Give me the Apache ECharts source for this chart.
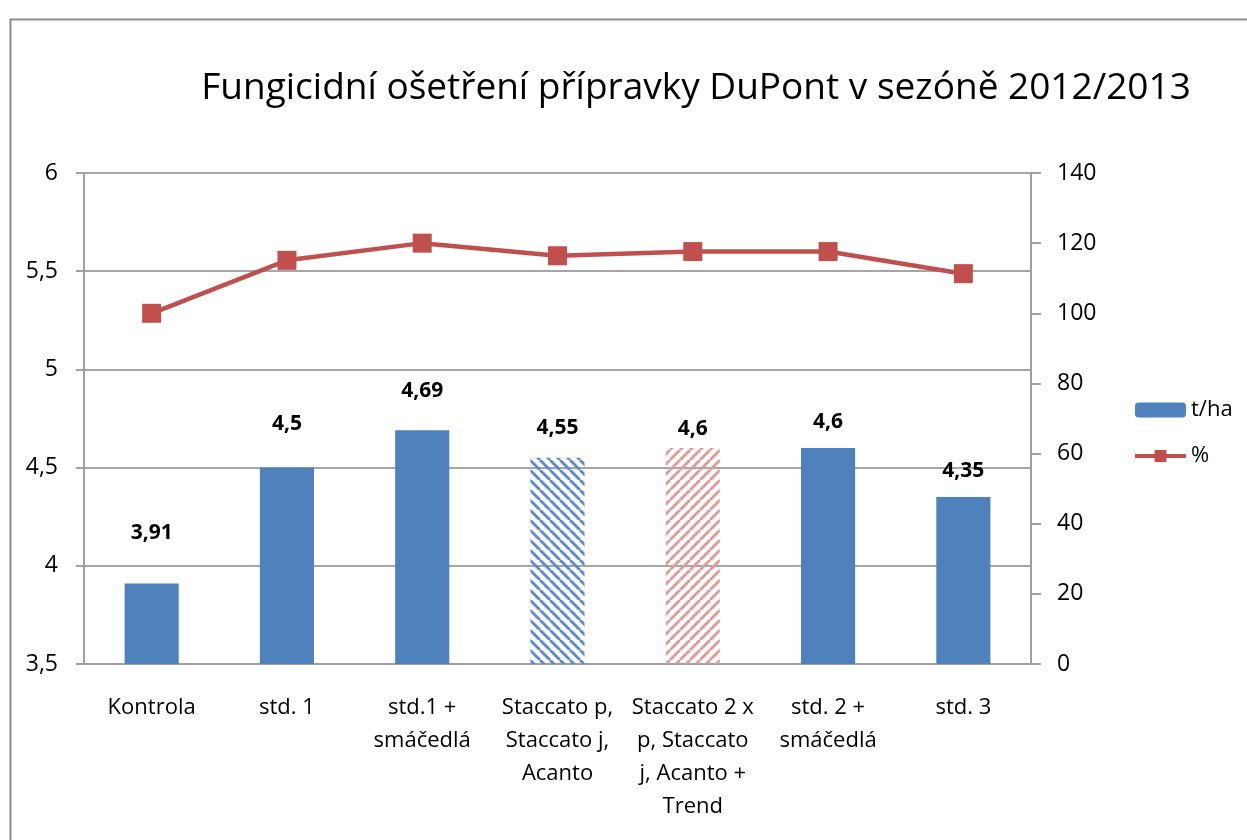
<!DOCTYPE html>
<html>
<head>
<meta charset="utf-8">
<script src="https://cdn.jsdelivr.net/npm/echarts@6/dist/echarts.min.js"></script>
<style>
  html, body { margin: 0; padding: 0; background: #fff; }
  #chart { width: 1247px; height: 840px; }
</style>
</head>
<body>
<div id="chart"></div>
<script>
var categories = ['Kontrola', 'std. 1', 'std.1 +\nsmáčedlá', 'Staccato p,\nStaccato j,\nAcanto',
  'Staccato 2 x\np, Staccato\nj, Acanto +\nTrend', 'std. 2 +\nsmáčedlá', 'std. 3'];
var yieldT = [3.91, 4.5, 4.69, 4.55, 4.6, 4.6, 4.35];
var percent = [100, 115.1, 120, 116.4, 117.6, 117.6, 111.3];
var leftTicks = [3.5, 6, 0.5];
var rightTicks = [0, 140, 20];

// label offsets above the bars (moved by hand in the original)
var labelGap = [40, 33, 29, 19, 8, 15, 16];

// hatch tile, dir 1 = "\" , dir -1 = "/"
function hatch(color, dir) {
  var s = 10;
  var c = document.createElement('canvas');
  c.width = s; c.height = s;
  var g = c.getContext('2d');
  g.strokeStyle = color;
  g.lineWidth = 2.8;
  for (var k = -1; k <= 1; k++) {
    g.beginPath();
    if (dir > 0) { g.moveTo(k * s, 0); g.lineTo(k * s + s, s); }
    else { g.moveTo(k * s + s, 0); g.lineTo(k * s, s); }
    g.stroke();
  }
  return { image: c, repeat: 'repeat' };
}

var font = '"Open Sans", "DejaVu Sans", sans-serif';
var barData = yieldT.map(function (v, i) {
  var item = { value: v, label: { distance: labelGap[i] } };
  if (i === 3) item.itemStyle = { color: hatch('#5a8ad6', 1) };
  if (i === 4) item.itemStyle = { color: hatch('#e09a98', -1) };
  return item;
});
var fmt = function (p) { return String(p.value).replace('.', ','); };

var chart = echarts.init(document.getElementById('chart'));
chart.setOption({
  animation: false,
  textStyle: { fontFamily: font },
  graphic: [{
    type: 'rect', left: 8, top: 17,
    shape: { width: 1300, height: 900 },
    style: { fill: 'none', stroke: '#8c8c8c', lineWidth: 2 }
  }],
  title: {
    text: 'Fungicidní ošetření přípravky DuPont v sezóně 2012/2013',
    left: 691, top: 65, textAlign: 'center',
    textStyle: { fontFamily: font, fontSize: 37, fontWeight: 'normal', color: '#000' }
  },
  legend: {
    orient: 'vertical', left: 1128, top: 394,
    itemWidth: 51, itemHeight: 15, itemGap: 24,
    textStyle: { fontFamily: font, fontSize: 22, color: '#000' },
    data: ['t/ha', { name: '%', lineStyle: { width: 4 }, itemStyle: { color: '#c0504d' } }]
  },
  grid: { left: 84, right: 216, top: 173, bottom: 176 },
  xAxis: {
    type: 'category', data: categories,
    axisLine: { lineStyle: { color: '#a0a0a0', width: 2 } },
    axisTick: { length: 8, lineStyle: { color: '#a0a0a0', width: 2 } },
    axisLabel: { interval: 0, margin: 27, fontSize: 22, lineHeight: 33, color: '#000' }
  },
  yAxis: [{
    type: 'value', min: leftTicks[0], max: leftTicks[1], interval: leftTicks[2],
    axisLine: { show: true, lineStyle: { color: '#a0a0a0', width: 2 } },
    axisTick: { show: true, length: 8, lineStyle: { color: '#a0a0a0', width: 2 } },
    splitLine: { lineStyle: { color: '#a6a6a6', width: 2 } },
    axisLabel: { fontSize: 23, color: '#000', margin: 26, formatter: function (v) { return String(v).replace('.', ','); } }
  }, {
    type: 'value', min: rightTicks[0], max: rightTicks[1], interval: rightTicks[2],
    axisLine: { show: true, lineStyle: { color: '#a0a0a0', width: 2 } },
    axisTick: { show: true, length: 10, lineStyle: { color: '#a0a0a0', width: 2 } },
    splitLine: { show: false },
    axisLabel: { fontSize: 23, color: '#000', margin: 26 }
  }],
  series: [{
    name: 't/ha', type: 'bar', data: barData,
    barCategoryGap: '60%',
    itemStyle: { color: '#4f81bd' },
    label: { show: true, position: 'top', fontSize: 21, fontWeight: 'bold', color: '#000', formatter: fmt }
  }, {
    name: '%', type: 'line', yAxisIndex: 1, data: percent,
    symbol: 'rect', symbolSize: 19,
    lineStyle: { color: '#c0504d', width: 4.5 },
    itemStyle: { color: '#c0504d' }
  }]
});
</script>
</body>
</html>
